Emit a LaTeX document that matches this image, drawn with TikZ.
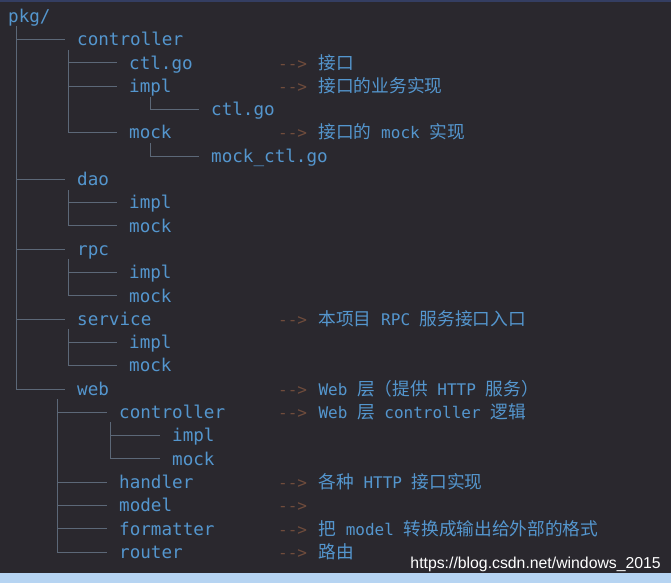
\documentclass[tikz,border=0pt]{standalone}
\usepackage{fontspec}
\setmonofont{DejaVu Sans Mono}
\newfontfamily\cjk{Noto Sans CJK SC}
\newfontfamily\urlfont{Liberation Sans}
\usetikzlibrary{positioning}
\definecolor{termbg}{RGB}{42,40,46}
\definecolor{termtop}{RGB}{52,62,98}
\definecolor{termblue}{RGB}{84,150,206}
\definecolor{termgrey}{RGB}{92,104,120}
\definecolor{termarrow}{RGB}{112,76,60}
\definecolor{barblue}{RGB}{182,212,242}
\newcommand{\zh}[1]{{\cjk\fontsize{17.7}{20}\selectfont #1}}
\tikzset{
  entry/.style={anchor=west, inner sep=0pt, text height=12.5pt, text depth=0pt,
    font=\ttfamily\fontsize{17.6}{20}\selectfont, text=termblue},
  arrowtxt/.style={anchor=west, inner sep=0pt, text height=12.5pt, text depth=0pt,
    font=\ttfamily\fontsize{16}{20}\selectfont, text=termarrow},
  note/.style={inner sep=0pt, text height=12.5pt, text depth=0pt,
    font=\ttfamily\fontsize{16}{20}\selectfont, text=termblue},
  tree/.style={draw=termgrey, line width=1pt}
}

\begin{document}
\begin{tikzpicture}[x=1pt, y=-1pt]
  \useasboundingbox (0,0) rectangle (671,583);
  \fill[termbg] (0,0) rectangle (671,583);
  \fill[termtop] (0,0) rectangle (671,2.5);
  \fill[barblue] (0,573) rectangle (671,583);

  % tree entries
  \node[entry] (pkg) at (8,16.2) {pkg/};
  \node[entry] (ctrl) at (77,39.5) {controller};
  \node[entry] (ctrlgo) at (129,62.8) {ctl.go};
  \node[entry] (ctrlimpl) at (129,86.1) {impl};
  \node[entry] (implgo) at (211,109.4) {ctl.go};
  \node[entry] (ctrlmock) at (129,132.7) {mock};
  \node[entry] (mockgo) at (211,156.0) {mock\_ctl.go};
  \node[entry] (dao) at (77,179.3) {dao};
  \node[entry] (daoimpl) at (129,202.6) {impl};
  \node[entry] (daomock) at (129,225.9) {mock};
  \node[entry] (rpc) at (77,249.2) {rpc};
  \node[entry] (rpcimpl) at (129,272.5) {impl};
  \node[entry] (rpcmock) at (129,295.8) {mock};
  \node[entry] (svc) at (77,319.1) {service};
  \node[entry] (svcimpl) at (129,342.4) {impl};
  \node[entry] (svcmock) at (129,365.7) {mock};
  \node[entry] (web) at (77,389.0) {web};
  \node[entry] (webctrl) at (119,412.3) {controller};
  \node[entry] (webimpl) at (172,435.6) {impl};
  \node[entry] (webmock) at (172,458.9) {mock};
  \node[entry] (handler) at (119,482.2) {handler};
  \node[entry] (model) at (119,505.5) {model};
  \node[entry] (formatter) at (119,528.8) {formatter};
  \node[entry] (router) at (119,552.1) {router};

  % comments on the right
  \node[arrowtxt] (ctrlgo-arr) at (278,62.8) {-{}->};
  \node[note, right=11pt of ctrlgo-arr] (ctrlgo-note) {\zh{接口}};
  \node[arrowtxt] (ctrlimpl-arr) at (278,86.1) {-{}->};
  \node[note, right=11pt of ctrlimpl-arr] (ctrlimpl-note) {\zh{接口的业务实现}};
  \node[arrowtxt] (ctrlmock-arr) at (278,132.7) {-{}->};
  \node[note, right=11pt of ctrlmock-arr] (ctrlmock-note) {\zh{接口的} mock \zh{实现}};
  \node[arrowtxt] (svc-arr) at (278,319.1) {-{}->};
  \node[note, right=11pt of svc-arr] (svc-note) {\zh{本项目} RPC \zh{服务接口入口}};
  \node[arrowtxt] (web-arr) at (278,389.0) {-{}->};
  \node[note, right=11pt of web-arr] (web-note) {Web \zh{层（提供} HTTP \zh{服务）}};
  \node[arrowtxt] (webctrl-arr) at (278,412.3) {-{}->};
  \node[note, right=11pt of webctrl-arr] (webctrl-note) {Web \zh{层} controller \zh{逻辑}};
  \node[arrowtxt] (handler-arr) at (278,482.2) {-{}->};
  \node[note, right=11pt of handler-arr] (handler-note) {\zh{各种} HTTP \zh{接口实现}};
  \node[arrowtxt] (model-arr) at (278,505.5) {-{}->};
  \node[arrowtxt] (formatter-arr) at (278,528.8) {-{}->};
  \node[note, right=11pt of formatter-arr] (formatter-note) {\zh{把} model \zh{转换成输出给外部的格式}};
  \node[arrowtxt] (router-arr) at (278,552.1) {-{}->};
  \node[note, right=11pt of router-arr] (router-note) {\zh{路由}};

  % tops of the tree branches
  \coordinate (pkg-v) at (16,26);
  \coordinate (ctrl-v) at (68,50);
  \coordinate (ctrlimpl-v) at (150,97);
  \coordinate (ctrlmock-v) at (150,143);
  \coordinate (dao-v) at (68,190);
  \coordinate (rpc-v) at (68,259);
  \coordinate (svc-v) at (68,329);
  \coordinate (web-v) at (57,399);
  \coordinate (webctrl-v) at (110,422);

  % branches
  \draw[tree] (pkg-v) |- ([xshift=-12pt]ctrl.west);
  \draw[tree] (pkg-v) |- ([xshift=-12pt]dao.west);
  \draw[tree] (pkg-v) |- ([xshift=-12pt]rpc.west);
  \draw[tree] (pkg-v) |- ([xshift=-12pt]svc.west);
  \draw[tree] (pkg-v) |- ([xshift=-12pt]web.west);
  \draw[tree] (ctrl-v) |- ([xshift=-12pt]ctrlgo.west);
  \draw[tree] (ctrl-v) |- ([xshift=-12pt]ctrlimpl.west);
  \draw[tree] (ctrl-v) |- ([xshift=-12pt]ctrlmock.west);
  \draw[tree] (ctrlimpl-v) |- ([xshift=-12pt]implgo.west);
  \draw[tree] (ctrlmock-v) |- ([xshift=-12pt]mockgo.west);
  \draw[tree] (dao-v) |- ([xshift=-12pt]daoimpl.west);
  \draw[tree] (dao-v) |- ([xshift=-12pt]daomock.west);
  \draw[tree] (rpc-v) |- ([xshift=-12pt]rpcimpl.west);
  \draw[tree] (rpc-v) |- ([xshift=-12pt]rpcmock.west);
  \draw[tree] (svc-v) |- ([xshift=-12pt]svcimpl.west);
  \draw[tree] (svc-v) |- ([xshift=-12pt]svcmock.west);
  \draw[tree] (web-v) |- ([xshift=-12pt]webctrl.west);
  \draw[tree] (web-v) |- ([xshift=-12pt]handler.west);
  \draw[tree] (web-v) |- ([xshift=-12pt]model.west);
  \draw[tree] (web-v) |- ([xshift=-12pt]formatter.west);
  \draw[tree] (web-v) |- ([xshift=-12pt]router.west);
  \draw[tree] (webctrl-v) |- ([xshift=-12pt]webimpl.west);
  \draw[tree] (webctrl-v) |- ([xshift=-12pt]webmock.west);

  % watermark
  \node[anchor=base east, inner sep=0pt, text=white,
    font=\urlfont\fontsize{15.8}{18}\selectfont] (wm) at (661,568)
    {https://blog.csdn.net/windows\_2015};
\end{tikzpicture}
\end{document}
